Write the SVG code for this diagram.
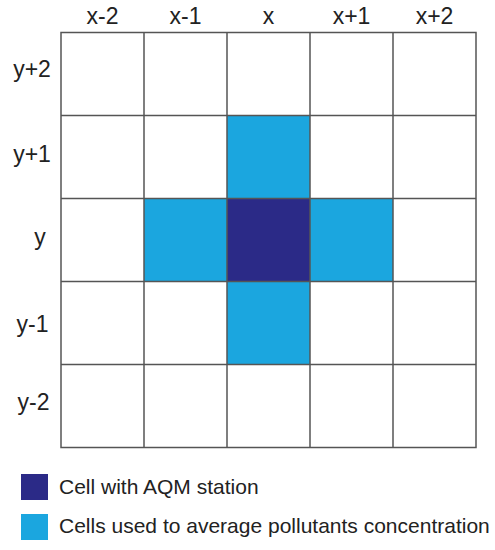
<svg xmlns="http://www.w3.org/2000/svg" width="495" height="550" viewBox="0 0 495 550">
<style>
.lbl{font-family:"Liberation Sans",Arial,sans-serif;font-size:23px;fill:#222;}
.leg{font-family:"Liberation Sans",Arial,sans-serif;font-size:21px;fill:#222;}
.nb{fill:#1ba6df;}
.st{fill:#2b2a87;}
.grid{stroke:#555;stroke-width:1.5;fill:none;}
</style>
<rect width="495" height="550" fill="#fff"/>
<g id="cells">
<rect id="cell-x-y1" class="nb" x="227" y="115.5" width="83" height="83"/>
<rect id="cell-xm1-y" class="nb" x="144" y="198.5" width="83" height="83"/>
<rect id="cell-xp1-y" class="nb" x="310" y="198.5" width="83" height="83"/>
<rect id="cell-x-ym1" class="nb" x="227" y="281.5" width="83" height="83"/>
<rect id="cell-x-y" class="st" x="227" y="198.5" width="83" height="83"/>
</g>
<g id="grid" class="grid">
<rect x="61" y="32.5" width="415" height="415"/>
<path d="M144 32.5V447.5M227 32.5V447.5M310 32.5V447.5M393 32.5V447.5M61 115.5H476M61 198.5H476M61 281.5H476M61 364.5H476"/>
</g>
<g id="col-labels" class="lbl" text-anchor="middle">
<text x="102.5" y="23.5">x-2</text>
<text x="185.5" y="23.5">x-1</text>
<text x="268.5" y="23.5">x</text>
<text x="351.5" y="23.5">x+1</text>
<text x="434.5" y="23.5">x+2</text>
</g>
<g id="row-labels" class="lbl" text-anchor="middle">
<text x="32" y="77">y+2</text>
<text x="32" y="161.5">y+1</text>
<text x="40" y="245">y</text>
<text x="32.5" y="331.5">y-1</text>
<text x="33.5" y="410">y-2</text>
</g>
<g id="legend">
<rect class="st" x="21" y="474" width="27" height="26"/>
<text class="leg" x="59" y="493.5">Cell with AQM station</text>
<rect class="nb" x="21" y="514" width="27" height="26"/>
<text class="leg" x="59" y="533">Cells used to average pollutants concentration</text>
</g>
</svg>
